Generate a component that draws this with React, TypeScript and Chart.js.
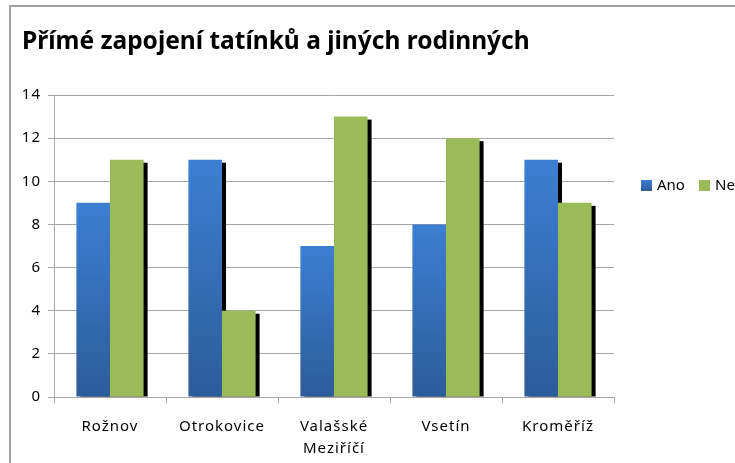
import React, { useEffect, useRef } from "react";
import { Chart, registerables } from "chart.js";

Chart.register(...registerables);

const titleText = "Přímé zapojení tatínků a jiných rodinných";
const categories: (string | string[])[] = ["Rožnov", "Otrokovice", ["Valašské", "Meziříčí"], "Vsetín", "Kroměříž"];
const seriesNames = ["Ano", "Ne"];
const anoValues = [9, 11, 7, 8, 11];
const neValues = [11, 4, 13, 12, 9];
const yTicks = [0, 2, 4, 6, 8, 10, 12, 14];

const FONT = "'Noto Sans', sans-serif";
const GRID = "#a6a6a6";
const GREEN = "#9bbb59";

const shadowPlugin = {
  id: "barShadow",
  beforeDraw(chart: any) {
    chart.ctx.letterSpacing = "1px";
  },
  beforeDatasetsDraw(chart: any) {
    const ctx = chart.ctx;
    const area = chart.chartArea;
    ctx.save();
    ctx.beginPath();
    ctx.rect(area.left, area.top - 10, area.right - area.left + 10, area.bottom - area.top + 10);
    ctx.clip();
    ctx.fillStyle = "#000";
    chart.data.datasets.forEach((_: any, i: number) => {
      const meta = chart.getDatasetMeta(i);
      meta.data.forEach((el: any) => {
        const w = el.width;
        const top = Math.min(el.y, el.base);
        const bot = Math.max(el.y, el.base);
        ctx.fillRect(el.x - w / 2 + 4, top + 3, w, bot - top - 3);
      });
    });
    ctx.restore();
  },
};

const decorPlugin = {
  id: "decor",
  afterDraw(chart: any) {
    const ctx = chart.ctx;
    ctx.save();
    ctx.letterSpacing = "0px";
    ctx.fillStyle = "#000";
    ctx.textBaseline = "alphabetic";
    ctx.textAlign = "left";
    ctx.font = `bold 24.5px ${FONT}`;
    ctx.fillText(titleText, 11, 42);
    // legend
    const colors = ["#3a74c0", GREEN];
    const xs = [630, 688];
    ctx.font = `15px ${FONT}`;
    ctx.textBaseline = "middle";
    seriesNames.forEach((n, i) => {
      if (i === 0) {
        const g = ctx.createLinearGradient(0, 173, 0, 184);
        g.addColorStop(0, "#3c7fd1");
        g.addColorStop(1, "#2c5c9a");
        ctx.fillStyle = g;
      } else ctx.fillStyle = colors[i];
      ctx.fillRect(xs[i], 173, 11, 11);
      ctx.fillStyle = "#000";
      ctx.fillText(n, xs[i] + 16, 179);
    });
    ctx.restore();
  },
};

export default function App() {
  const ref = useRef<HTMLCanvasElement | null>(null);
  useEffect(() => {
    if (!ref.current) return;
    const blueGrad = (c: any) => {
      const chart = c.chart;
      if (!chart.chartArea || c.raw == null) return "#3a74c0";
      const y = chart.scales.y;
      const top = y.getPixelForValue(c.raw);
      const base = y.getPixelForValue(0);
      const g = chart.ctx.createLinearGradient(0, top, 0, base);
      g.addColorStop(0, "#3c7fd1");
      g.addColorStop(1, "#2c5c9a");
      return g;
    };
    const chart = new Chart(ref.current, {
      type: "bar",
      data: {
        labels: categories,
        datasets: [
          { label: seriesNames[0], data: anoValues, backgroundColor: blueGrad, borderWidth: 0 },
          { label: seriesNames[1], data: neValues, backgroundColor: GREEN, borderWidth: 0 },
        ],
      },
      options: {
        animation: false,
        responsive: false,
        maintainAspectRatio: false,
        events: [],
        layout: { padding: { left: 0, top: 88, right: 157, bottom: 0 } },
        plugins: { legend: { display: false }, title: { display: false }, tooltip: { enabled: false } },
        datasets: { bar: { categoryPercentage: 0.6, barPercentage: 1 } },
        scales: {
          x: {
            afterFit: (s: any) => { s.height = 80; },
            grid: { offset: true, drawOnChartArea: false, drawTicks: true, tickLength: 6, color: GRID },
            border: { color: GRID, width: 1 },
            ticks: { color: "#000", font: { family: FONT, size: 15, lineHeight: 1.45 }, padding: 13, maxRotation: 0, autoSkip: false },
          },
          y: {
            min: 0,
            max: 14,
            afterFit: (s: any) => { s.width = 43; },
            afterBuildTicks: (s: any) => { s.ticks = yTicks.map((v) => ({ value: v })); },
            grid: { color: GRID, tickLength: 6, drawTicks: true },
            border: { color: GRID, width: 1 },
            ticks: { color: "#000", font: { family: FONT, size: 15 }, padding: 7 },
          },
        },
      },
      plugins: [shadowPlugin, decorPlugin],
    });
    return () => chart.destroy();
  }, []);
  return (
    <div style={{ position: "fixed", left: 0, top: 0, width: 735, height: 463, overflow: "hidden", background: "#fff" }}>
      <div style={{ position: "absolute", left: 9, top: 5, width: 760, height: 470, borderTop: "2px solid #a0a0a0", borderLeft: "2px solid #a0a0a0", background: "#fff" }}>
        <canvas ref={ref} width={760} height={470} style={{ display: "block", width: 760, height: 470 }} />
      </div>
    </div>
  );
}
